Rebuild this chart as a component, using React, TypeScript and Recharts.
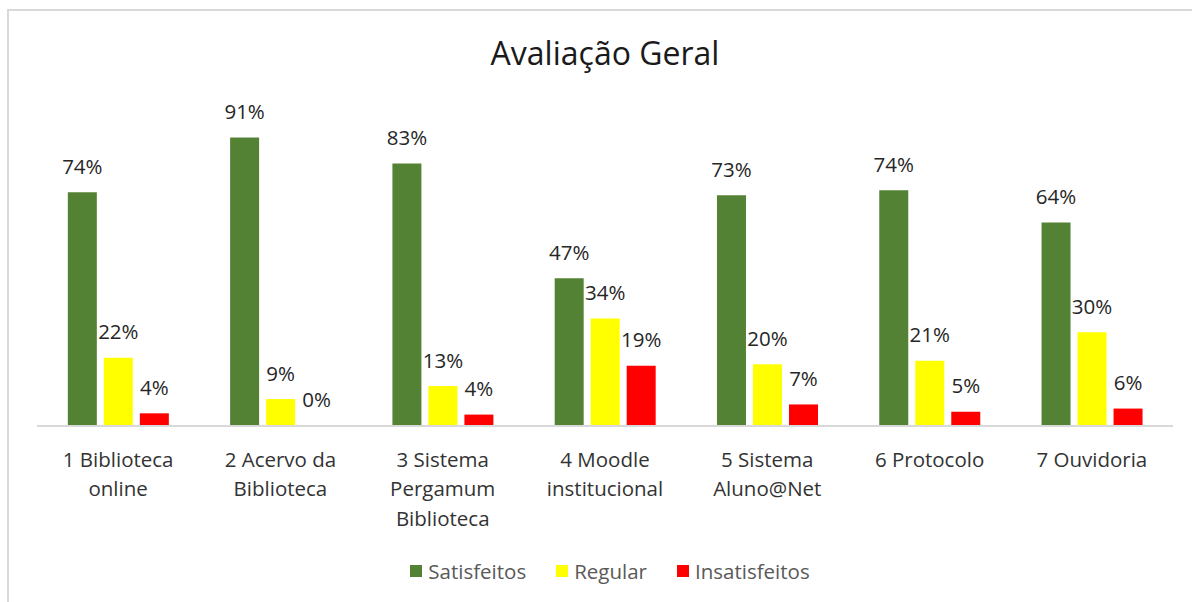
import React from "react";
import { BarChart, Bar, XAxis, YAxis, Legend, LabelList } from "recharts";

const categories = ["1", "2", "3", "4", "5", "6", "7"];
const categoryLines: string[][] = [
  ["1 Biblioteca", "online"],
  ["2 Acervo da", "Biblioteca"],
  ["3 Sistema", "Pergamum", "Biblioteca"],
  ["4 Moodle", "institucional"],
  ["5 Sistema", "Aluno@Net"],
  ["6 Protocolo"],
  ["7 Ouvidoria"],
];
const satisfeitos = [73.7, 91, 82.8, 46.6, 72.8, 74.4, 64.2];
const regular = [21.5, 8.5, 12.6, 33.9, 19.5, 20.6, 29.6];
const insatisfeitos = [4.0, 0, 3.6, 19.0, 6.8, 4.5, 5.5];

const seriesNames = ["Satisfeitos", "Regular", "Insatisfeitos"];
const seriesColors = ["#548235", "#FFFF00", "#FF0000"];

const data = categories.map((c, i) => ({
  cat: c,
  idx: i,
  s: satisfeitos[i],
  r: regular[i],
  n: insatisfeitos[i],
}));

const FONT = "'Open Sans', sans-serif";

const CategoryTick = (props: any) => {
  const { x, y, payload } = props;
  const lines = categoryLines[payload.index] || [];
  return (
    <text
      x={x}
      y={y}
      textAnchor="middle"
      fill="#333333"
      fontSize={20.5}
      fontFamily={FONT}
    >
      {lines.map((ln, i) => (
        <tspan key={i} x={x} y={y + 40.5 + i * 29.5}>
          {ln}
        </tspan>
      ))}
    </text>
  );
};

const LegendContent = () => (
  <div
    style={{
      display: "flex",
      justifyContent: "center",
      alignItems: "center",
      paddingLeft: 28,
      height: 30,
      fontFamily: FONT,
      fontSize: 20.5,
      color: "#595959",
    }}
  >
    {seriesNames.map((n, i) => (
      <div
        key={n}
        style={{ display: "flex", alignItems: "center", marginRight: i < 2 ? 30 : 0 }}
      >
        <div
          style={{ width: 12, height: 12, background: seriesColors[i], marginRight: 6 }}
        />
        <span>{n}</span>
      </div>
    ))}
  </div>
);

const fmt = (v: any) => `${Math.round(Number(v))}%`;

export default function App() {
  const keys = ["s", "r", "n"];
  return (
    <div
      style={{
        position: "absolute",
        left: 0,
        top: 0,
        width: 1192,
        height: 602,
        overflow: "hidden",
        background: "#ffffff",
        fontFamily: FONT,
      }}
    >
      <div
        style={{
          position: "absolute",
          left: 7,
          top: 9,
          width: 1192,
          height: 602,
          borderLeft: "2px solid #d9d9d9",
          borderTop: "2px solid #d9d9d9",
        }}
      />
      <div style={{ position: "absolute", left: 0, top: 0 }}>
        <BarChart
          width={1192}
          height={602}
          data={data}
          margin={{ top: 109, right: 19, bottom: 76, left: 37 }}
          barCategoryGap="19%"
          barGap={7}
        >
          <text
            x={605}
            y={65}
            textAnchor="middle"
            fontSize={32}
            fontFamily={FONT}
            fill="#1a1a1a"
          >
            Avaliação Geral
          </text>
          <XAxis
            dataKey="cat"
            axisLine={{ stroke: "#d9d9d9", strokeWidth: 2 }}
            tickLine={false}
            tickSize={0}
            tickMargin={0}
            height={100}
            interval={0}
            tick={<CategoryTick />}
          />
          <YAxis hide domain={[0, 100]} />
          <Legend
            verticalAlign="middle"
            align="center"
            layout="horizontal"
            content={<LegendContent />}
            wrapperStyle={{ top: 556, left: 0, width: 1192, height: 30 }}
          />
          {keys.map((k, i) => (
            <Bar
              key={k}
              dataKey={k}
              name={seriesNames[i]}
              fill={seriesColors[i]}
              minPointSize={0.01}
              isAnimationActive={false}
            >
              <LabelList
                dataKey={k}
                position="top"
                offset={18.5}
                formatter={fmt}
                fill="#262626"
                fontSize={20.5}
                fontFamily={FONT}
              />
            </Bar>
          ))}
        </BarChart>
      </div>
    </div>
  );
}
